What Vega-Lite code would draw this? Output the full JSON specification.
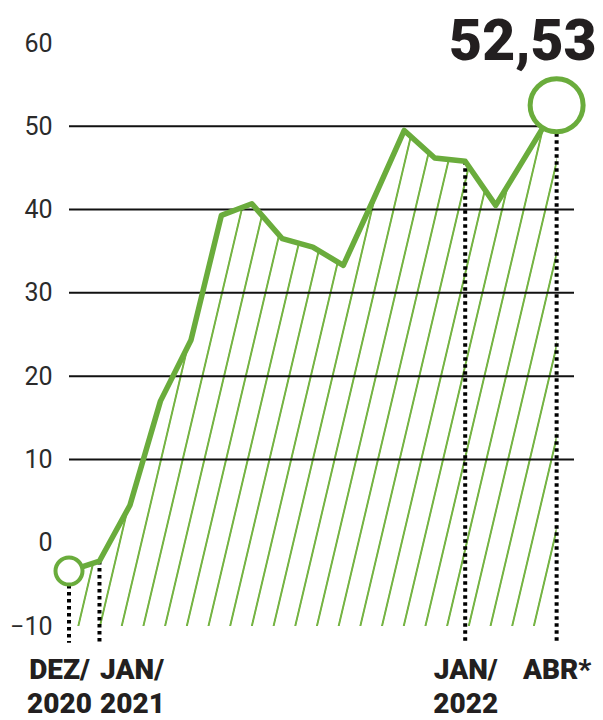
{
  "$schema": "https://vega.github.io/schema/vega-lite/v6.json",
  "width": 505,
  "height": 583,
  "autosize": {"type": "none"},
  "padding": {"left": 69, "top": 43, "right": 29, "bottom": 94},
  "background": "white",
  "config": {
    "view": {"stroke": null},
    "locale": {"number": {"decimal": ",", "thousands": ".", "grouping": [3], "currency": ["R$", ""]}}
  },
  "datasets": {
    "serie": [
      {"t": 0, "mes": "2020-12", "valor": -3.4},
      {"t": 1, "mes": "2021-01", "valor": -2.2},
      {"t": 2, "mes": "2021-02", "valor": 4.5},
      {"t": 3, "mes": "2021-03", "valor": 17.0},
      {"t": 4, "mes": "2021-04", "valor": 24.3},
      {"t": 5, "mes": "2021-05", "valor": 39.3},
      {"t": 6, "mes": "2021-06", "valor": 40.7},
      {"t": 7, "mes": "2021-07", "valor": 36.5},
      {"t": 8, "mes": "2021-08", "valor": 35.5},
      {"t": 9, "mes": "2021-09", "valor": 33.3},
      {"t": 10, "mes": "2021-10", "valor": 41.3},
      {"t": 11, "mes": "2021-11", "valor": 49.5},
      {"t": 12, "mes": "2021-12", "valor": 46.2},
      {"t": 13, "mes": "2022-01", "valor": 45.8},
      {"t": 14, "mes": "2022-02", "valor": 40.5},
      {"t": 15, "mes": "2022-03", "valor": 46.5},
      {"t": 16, "mes": "2022-04", "valor": 52.53}
    ],
    "grade": [{"v": 10}, {"v": 20}, {"v": 30}, {"v": 40}, {"v": 50}]
  },
  "layer": [
    {
      "data": {"name": "serie"},
      "mark": {
        "type": "area",
        "fill": {
          "gradient": "linear",
          "x1": 0, "y1": 0, "x2": 1.1773, "y2": 0.2968,
          "stops": [
            {"offset": 0, "color": "#ffffff"},
            {"offset": 0.0010, "color": "#ffffff"}, {"offset": 0.0024, "color": "#76b444"}, {"offset": 0.0044, "color": "#76b444"}, {"offset": 0.0058, "color": "#ffffff"},
            {"offset": 0.0366, "color": "#ffffff"}, {"offset": 0.0380, "color": "#76b444"}, {"offset": 0.0400, "color": "#76b444"}, {"offset": 0.0414, "color": "#ffffff"},
            {"offset": 0.0721, "color": "#ffffff"}, {"offset": 0.0735, "color": "#76b444"}, {"offset": 0.0755, "color": "#76b444"}, {"offset": 0.0769, "color": "#ffffff"},
            {"offset": 0.1076, "color": "#ffffff"}, {"offset": 0.1090, "color": "#76b444"}, {"offset": 0.1110, "color": "#76b444"}, {"offset": 0.1124, "color": "#ffffff"},
            {"offset": 0.1431, "color": "#ffffff"}, {"offset": 0.1445, "color": "#76b444"}, {"offset": 0.1465, "color": "#76b444"}, {"offset": 0.1479, "color": "#ffffff"},
            {"offset": 0.1787, "color": "#ffffff"}, {"offset": 0.1801, "color": "#76b444"}, {"offset": 0.1821, "color": "#76b444"}, {"offset": 0.1835, "color": "#ffffff"},
            {"offset": 0.2142, "color": "#ffffff"}, {"offset": 0.2156, "color": "#76b444"}, {"offset": 0.2176, "color": "#76b444"}, {"offset": 0.2190, "color": "#ffffff"},
            {"offset": 0.2497, "color": "#ffffff"}, {"offset": 0.2511, "color": "#76b444"}, {"offset": 0.2531, "color": "#76b444"}, {"offset": 0.2545, "color": "#ffffff"},
            {"offset": 0.2853, "color": "#ffffff"}, {"offset": 0.2867, "color": "#76b444"}, {"offset": 0.2887, "color": "#76b444"}, {"offset": 0.2901, "color": "#ffffff"},
            {"offset": 0.3208, "color": "#ffffff"}, {"offset": 0.3222, "color": "#76b444"}, {"offset": 0.3242, "color": "#76b444"}, {"offset": 0.3256, "color": "#ffffff"},
            {"offset": 0.3563, "color": "#ffffff"}, {"offset": 0.3577, "color": "#76b444"}, {"offset": 0.3597, "color": "#76b444"}, {"offset": 0.3611, "color": "#ffffff"},
            {"offset": 0.3919, "color": "#ffffff"}, {"offset": 0.3933, "color": "#76b444"}, {"offset": 0.3953, "color": "#76b444"}, {"offset": 0.3967, "color": "#ffffff"},
            {"offset": 0.4274, "color": "#ffffff"}, {"offset": 0.4288, "color": "#76b444"}, {"offset": 0.4308, "color": "#76b444"}, {"offset": 0.4322, "color": "#ffffff"},
            {"offset": 0.4629, "color": "#ffffff"}, {"offset": 0.4643, "color": "#76b444"}, {"offset": 0.4663, "color": "#76b444"}, {"offset": 0.4677, "color": "#ffffff"},
            {"offset": 0.4984, "color": "#ffffff"}, {"offset": 0.4998, "color": "#76b444"}, {"offset": 0.5018, "color": "#76b444"}, {"offset": 0.5032, "color": "#ffffff"},
            {"offset": 0.5340, "color": "#ffffff"}, {"offset": 0.5354, "color": "#76b444"}, {"offset": 0.5374, "color": "#76b444"}, {"offset": 0.5388, "color": "#ffffff"},
            {"offset": 0.5695, "color": "#ffffff"}, {"offset": 0.5709, "color": "#76b444"}, {"offset": 0.5729, "color": "#76b444"}, {"offset": 0.5743, "color": "#ffffff"},
            {"offset": 0.6050, "color": "#ffffff"}, {"offset": 0.6064, "color": "#76b444"}, {"offset": 0.6084, "color": "#76b444"}, {"offset": 0.6098, "color": "#ffffff"},
            {"offset": 0.6406, "color": "#ffffff"}, {"offset": 0.6420, "color": "#76b444"}, {"offset": 0.6440, "color": "#76b444"}, {"offset": 0.6454, "color": "#ffffff"},
            {"offset": 0.6761, "color": "#ffffff"}, {"offset": 0.6775, "color": "#76b444"}, {"offset": 0.6795, "color": "#76b444"}, {"offset": 0.6809, "color": "#ffffff"},
            {"offset": 0.7116, "color": "#ffffff"}, {"offset": 0.7130, "color": "#76b444"}, {"offset": 0.7150, "color": "#76b444"}, {"offset": 0.7164, "color": "#ffffff"},
            {"offset": 0.7472, "color": "#ffffff"}, {"offset": 0.7486, "color": "#76b444"}, {"offset": 0.7506, "color": "#76b444"}, {"offset": 0.7520, "color": "#ffffff"},
            {"offset": 0.7827, "color": "#ffffff"}, {"offset": 0.7841, "color": "#76b444"}, {"offset": 0.7861, "color": "#76b444"}, {"offset": 0.7875, "color": "#ffffff"},
            {"offset": 0.8182, "color": "#ffffff"}, {"offset": 0.8196, "color": "#76b444"}, {"offset": 0.8216, "color": "#76b444"}, {"offset": 0.8230, "color": "#ffffff"},
            {"offset": 0.8537, "color": "#ffffff"}, {"offset": 0.8551, "color": "#76b444"}, {"offset": 0.8571, "color": "#76b444"}, {"offset": 0.8585, "color": "#ffffff"},
            {"offset": 0.8893, "color": "#ffffff"}, {"offset": 0.8907, "color": "#76b444"}, {"offset": 0.8927, "color": "#76b444"}, {"offset": 0.8941, "color": "#ffffff"},
            {"offset": 0.9248, "color": "#ffffff"}, {"offset": 0.9262, "color": "#76b444"}, {"offset": 0.9282, "color": "#76b444"}, {"offset": 0.9296, "color": "#ffffff"},
            {"offset": 0.9603, "color": "#ffffff"}, {"offset": 0.9617, "color": "#76b444"}, {"offset": 0.9637, "color": "#76b444"}, {"offset": 0.9651, "color": "#ffffff"},
            {"offset": 1, "color": "#ffffff"}
          ]
        }
      },
      "encoding": {
        "x": {
          "field": "t", "type": "quantitative",
          "scale": {"domain": [0, 16.57], "nice": false, "zero": false},
          "axis": {
            "title": null, "values": [0, 1, 13, 16],
            "labelExpr": "datum.value == 0 ? ['DEZ/', '2020'] : datum.value == 1 ? ['JAN/', '2021'] : datum.value == 13 ? ['JAN/', '2022'] : ['ABR*']",
            "grid": false, "domain": false, "ticks": false,
            "labelAlign": {"condition": {"test": "datum.value == 1", "value": "left"}, "value": "center"},
            "labelOffset": {"condition": {"test": "datum.value == 0", "value": -10}, "value": 0},
            "labelBaseline": "top", "labelLineHeight": 34, "labelPadding": 30,
            "labelFont": "Roboto", "labelFontWeight": 900, "labelFontSize": 28, "labelColor": "#231f20",
            "labelFlush": false, "labelOverlap": false, "labelBound": false
          }
        },
        "y": {
          "field": "valor", "type": "quantitative",
          "scale": {"domain": [-10, 60], "nice": false, "zero": false},
          "axis": {
            "title": null, "values": [-10, 0, 10, 20, 30, 40, 50, 60],
            "grid": false, "domain": false, "ticks": false, "labelPadding": 17,
            "labelFont": "Roboto", "labelFontWeight": 400, "labelFontSize": 25, "labelColor": "#2b2b2b"
          }
        },
        "y2": {"datum": -10}
      }
    },
    {
      "data": {"name": "grade"},
      "mark": {"type": "rule", "color": "#111111", "strokeWidth": 2},
      "encoding": {"y": {"field": "v", "type": "quantitative"}}
    },
    {
      "mark": {"type": "rule", "color": "#000000", "strokeWidth": 5},
      "encoding": {"y": {"datum": 0}}
    },
    {
      "mark": {"type": "rule", "color": "#333333", "strokeWidth": 1.3},
      "encoding": {"y": {"datum": -10}}
    },
    {
      "mark": {"type": "rule", "color": "#111111", "strokeWidth": 2},
      "encoding": {"y": {"datum": 60}, "x": {"datum": 0}, "x2": {"datum": 12.3}}
    },
    {
      "data": {"name": "serie"},
      "transform": [{"filter": "datum.t == 0 || datum.t == 1 || datum.t == 13 || datum.t == 16"}],
      "mark": {"type": "rule", "color": "#000000", "strokeWidth": 4, "strokeDash": [3.5, 3.5]},
      "encoding": {
        "x": {"field": "t", "type": "quantitative"},
        "y": {"field": "valor", "type": "quantitative"},
        "y2": {"datum": -12}
      }
    },
    {
      "data": {"name": "serie"},
      "mark": {"type": "line", "color": "#6aac3c", "strokeWidth": 5.5, "strokeJoin": "round", "strokeCap": "round"},
      "encoding": {
        "x": {"field": "t", "type": "quantitative"},
        "y": {"field": "valor", "type": "quantitative"}
      }
    },
    {
      "data": {"name": "serie"},
      "transform": [{"filter": "datum.t == 0"}],
      "mark": {"type": "point", "shape": "circle", "filled": false, "fill": "white", "fillOpacity": 1, "stroke": "#6aac3c", "strokeWidth": 4, "size": 729, "opacity": 1},
      "encoding": {
        "x": {"field": "t", "type": "quantitative"},
        "y": {"field": "valor", "type": "quantitative"}
      }
    },
    {
      "data": {"name": "serie"},
      "transform": [{"filter": "datum.t == 16"}],
      "mark": {"type": "point", "shape": "circle", "filled": false, "fill": "white", "fillOpacity": 1, "stroke": "#6aac3c", "strokeWidth": 5, "size": 2809, "opacity": 1},
      "encoding": {
        "x": {"field": "t", "type": "quantitative"},
        "y": {"field": "valor", "type": "quantitative"}
      }
    },
    {
      "data": {"name": "serie"},
      "transform": [{"filter": "datum.t == 16"}],
      "mark": {"type": "text", "align": "right", "baseline": "alphabetic", "dx": 40, "dy": 17, "font": "Roboto", "fontWeight": 900, "fontSize": 57, "color": "#231f20"},
      "encoding": {
        "x": {"field": "t", "type": "quantitative"},
        "y": {"datum": 60},
        "text": {"field": "valor", "type": "quantitative", "format": ".2f"}
      }
    }
  ]
}
